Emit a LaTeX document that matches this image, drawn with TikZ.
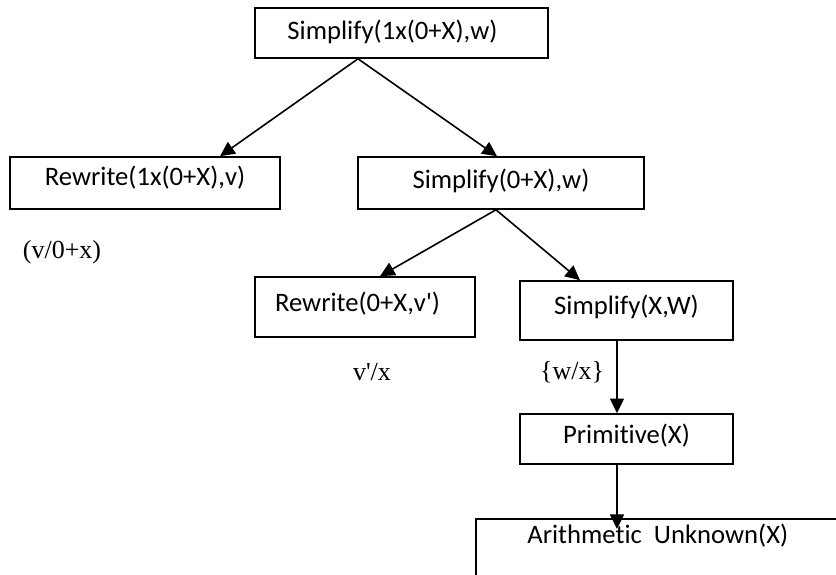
\documentclass[tikz,border=0pt]{standalone}
\usepackage{fontspec}
\setmainfont{Carlito}[Ligatures=NoCommon]
\newfontfamily\timesfont{Liberation Serif}
\usetikzlibrary{arrows.meta,positioning}
\newdimen\pix
\pix=0.75pt
\tikzset{
  termbox/.style ={draw=black, line width=1.2pt, fill=white, inner sep=0pt,
                   minimum height=50\pix, text height=0.65em, text depth=0pt,
                   font=\fontsize{20}{24}\selectfont},
  subst/.style   ={font=\timesfont\fontsize{19.5}{23}\selectfont, inner sep=0pt},
  treearr/.style ={-{Triangle[length=11pt,width=10.5pt]}, line width=1.2pt},
}
\begin{document}
\begin{tikzpicture}[x=0.75pt,y=-0.75pt]
    \useasboundingbox (0,0) rectangle (836,575);
    \clip (0,0) rectangle (836,575);

    % goal tree
    \node[termbox,minimum width=293\pix,text height=1.0em] (root) at (401.5,33)  {Simplify(1x(0+X),w)\hspace*{18\pix}};
    \node[termbox,minimum width=270\pix,minimum height=52\pix,text height=0.3em]
                                               (rw1)  at (145,183)   {Rewrite(1x(0+X),v)};
    \node[termbox,minimum width=286\pix,minimum height=52\pix,text height=0.8em] (simp2) at (501,183) {Simplify(0+X),w)};
    \node[termbox,minimum width=220\pix,minimum height=60\pix] (rw2)  at (365,307)   {Rewrite(0+X,v\textquotesingle)\hspace*{15\pix}};
    \node[termbox,minimum width=213\pix,minimum height=59\pix] (simp3) at (626.5,310.5) {Simplify(X,W)};
    \node[termbox,minimum width=213\pix]       (prim) at (626.5,439) {Primitive(X)};
    \node[termbox,anchor=north west,minimum width=364\pix,inner ysep=7\pix,
          text height=18\pix,text depth=60\pix] (arith) at (475,518) {Arithmetic~~Unknown(X)};

    % substitutions
    \node[subst] (sub1) at (62,252)  {(v/0+x)};
    \node[subst] (sub2) at (372,372) {v\textquotesingle/x};
    \node[subst] (sub3) at (572,372) {\{w/x\}};

    \coordinate (fork1) at ([xshift=-43.5\pix]root.south);
    \coordinate (fork2) at ([xshift=-5\pix]simp2.south);
    \coordinate (pbot)  at ([xshift=-9.5\pix]prim.south);

    \draw[treearr] (fork1) -- ([xshift=75\pix]rw1.north);
    \draw[treearr] (fork1) -- ([xshift=-4\pix]simp2.north);
    \draw[treearr] (fork2) -- ([xshift=15\pix]rw2.north);
    \draw[treearr] (fork2) -- ([xshift=-46.5\pix]simp3.north);
    \draw[treearr] ([xshift=-9.5\pix]simp3.south) -- ([xshift=-9.5\pix]prim.north);
    \draw[treearr] (pbot) -- ([yshift=-11\pix]arith.north -| pbot);
\end{tikzpicture}
\end{document}
